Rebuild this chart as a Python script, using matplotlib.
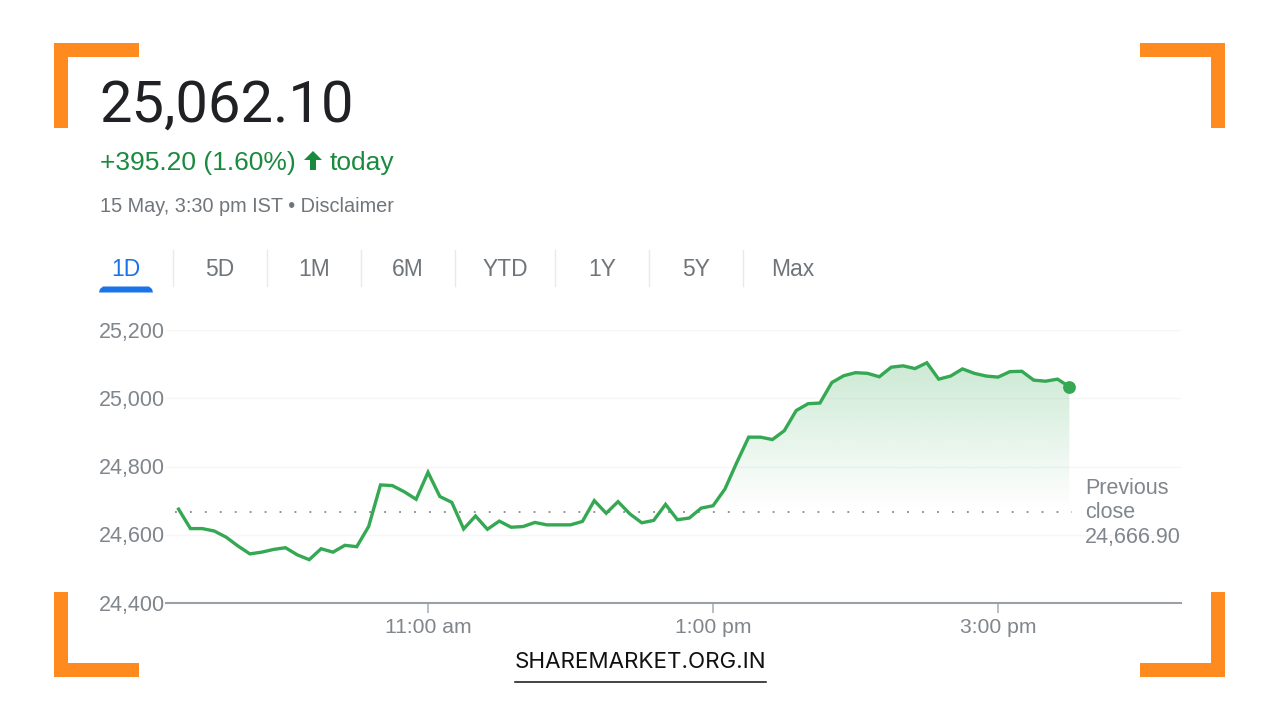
import numpy as np
import matplotlib
matplotlib.use("Agg")
import matplotlib.pyplot as plt
from matplotlib.patches import Rectangle, Polygon
from matplotlib.path import Path

# ---------- data ----------
start_minute = 555   # 9:15 am
step_minutes = 5
prices = [24675, 24618, 24618, 24611, 24593, 24567, 24544, 24549, 24557, 24562,
          24541, 24527, 24559, 24549, 24569, 24565, 24624, 24746, 24744, 24726,
          24704, 24783, 24712, 24695, 24617, 24655, 24616, 24640, 24622, 24624,
          24636, 24629, 24629, 24629, 24639, 24700, 24663, 24697, 24661, 24635,
          24642, 24689, 24644, 24649, 24678, 24685, 24734, 24812, 24886, 24886,
          24879, 24905, 24964, 24984, 24986, 25046, 25066, 25075, 25073, 25063,
          25091, 25095, 25087, 25104, 25056, 25065, 25086, 25073, 25065, 25062,
          25078, 25079, 25053, 25050, 25056, 25034]
prev_close = 24666.90
y_ticks = [24400, 24600, 24800, 25000, 25200]
y_labels = ["24,400", "24,600", "24,800", "25,000", "25,200"]
x_ticks = [660, 780, 900]
x_labels = ["11:00 am", "1:00 pm", "3:00 pm"]
tabs = ["1D", "5D", "1M", "6M", "YTD", "1Y", "5Y", "Max"]
tab_centres = [126, 220, 314, 408, 505, 602, 696, 793]
tab_separators = [173, 267, 361, 455, 555, 649, 743]

W, H = 1280, 720
SANS = "Liberation Sans"
GREEN = "#34a853"
TEXT_GREEN = "#1a8a3e"
ORANGE = "#ff8a1f"
GREY = "#80868b"

fig = plt.figure(figsize=(W / 100, H / 100), dpi=100, facecolor="white")

# overlay in pixel coordinates for the page furniture (above the chart axes)
page = fig.add_axes([0, 0, 1, 1], zorder=2)
page.set_xlim(0, W)
page.set_ylim(H, 0)
page.axis("off")

# chart axes
L, R, T, B = 166, 1181, 330, 603
ax = fig.add_axes([L / W, 1 - B / H, (R - L) / W, (B - T) / H], zorder=1)
ax.patch.set_alpha(0)

minutes = start_minute + step_minutes * np.arange(len(prices))
values = np.array(prices, dtype=float)

for s in ["top", "left", "right"]:
    ax.spines[s].set_visible(False)
ax.spines["bottom"].set_color("#9aa0a6")
ax.spines["bottom"].set_linewidth(1.5)

for v in y_ticks[1:]:
    ax.axhline(v, color="#f6f6f6", lw=1.0, zorder=1)

# gradient area above the previous close
top = values.max()
grad = np.zeros((256, 2, 4))
grad[..., 0] = 0x34 / 255
grad[..., 1] = 0xa8 / 255
grad[..., 2] = 0x53 / 255
grad[..., 3] = np.linspace(0.25, 0.0, 256)[:, None]
im = ax.imshow(grad, extent=[minutes[0], minutes[-1], prev_close + 10, top],
               origin="upper", aspect="auto", zorder=1.5, interpolation="bilinear")
poly = ax.fill_between(minutes, values, prev_close, where=values >= prev_close,
                       interpolate=True, color="none", lw=0)
im.set_clip_path(Path.make_compound_path(*poly.get_paths()), transform=ax.transData)
ax.set_xlim(549.7, 977)
ax.set_ylim(24400, 25200)

ax.plot([553.5, 931.2], [prev_close, prev_close], color="#70757a", lw=1.1,
        ls=(0, (1.2, 8.58)), zorder=2)
ax.plot(minutes, values, color=GREEN, lw=2.4, zorder=3, solid_joinstyle="miter")
ax.plot(minutes[-1], values[-1], "o", color=GREEN, ms=9.2, mew=0, zorder=4, clip_on=False)

ax.set_xticks(x_ticks)
ax.set_xticklabels(x_labels, fontsize=15.2, color=GREY, family=SANS)
ax.tick_params(axis="x", length=7, width=1.1, color="#a8acb0", pad=3.5)
ax.set_yticks([])

for v, lab in zip(y_ticks, y_labels):
    ax.annotate(lab, xy=(0, v), xycoords=("axes fraction", "data"), xytext=(-0.5, -1.6),
                textcoords="offset points", ha="right", va="center",
                fontsize=15.5, color=GREY, family=SANS)

for txt, py in zip(["Previous", "close", "24,666.90"], [488, 513, 538]):
    page.text(1085, py, txt, fontsize=15.5, color=GREY, family=SANS, va="center", ha="left", zorder=5)

# header
page.text(99, 106.5, "25,062.10", fontsize=41.8, color="#202124", family="Roboto", va="center", ha="left")
page.text(100, 163, "+395.20 (1.60%)", fontsize=19, color=TEXT_GREEN, family=SANS, va="center", ha="left")
page.text(330, 163, "today", fontsize=19, color=TEXT_GREEN, family=SANS, va="center", ha="left")
page.add_patch(Polygon([(313, 151), (322, 160), (316, 160), (316, 170), (310, 170), (310, 160), (304, 160)],
                       closed=True, fc=TEXT_GREEN, ec="none"))
page.text(100, 207, "15 May, 3:30 pm IST \u2022 Disclaimer", fontsize=14.3, color="#70757a",
          family=SANS, va="center", ha="left")

# tabs
for i, (t, c) in enumerate(zip(tabs, tab_centres)):
    page.text(c, 270, t, fontsize=16.5, color="#1a73e8" if i == 0 else "#70757a",
              family=SANS, va="center", ha="center")
for s in tab_separators:
    page.plot([s, s], [250, 286], color="#e8eaed", lw=1.0)
page.add_patch(Polygon([(99, 292.5), (100, 289), (103, 286.5), (149, 286.5), (152, 289), (153, 292.5)],
                       closed=True, fc="#1a73e8", ec="none"))

# orange corner brackets
for r in [(53.5, 43, 85.5, 14), (53.5, 43, 14, 85), (1140, 43, 85, 14), (1211, 43, 14, 85),
          (53.5, 663, 85.5, 14), (53.5, 592, 14, 85), (1140, 663, 85, 14), (1211, 592, 14, 85)]:
    page.add_patch(Rectangle((r[0], r[1]), r[2], r[3], fc=ORANGE, ec="none"))

# brand
page.text(640.5, 662.5, "SHAREMARKET.ORG.IN", fontsize=16.1, color="#111111", family="Inter",
          va="center", ha="center")
page.plot([515, 766], [682, 682], color="#111111", lw=1.1)

fig.savefig("out.png", dpi=100)
